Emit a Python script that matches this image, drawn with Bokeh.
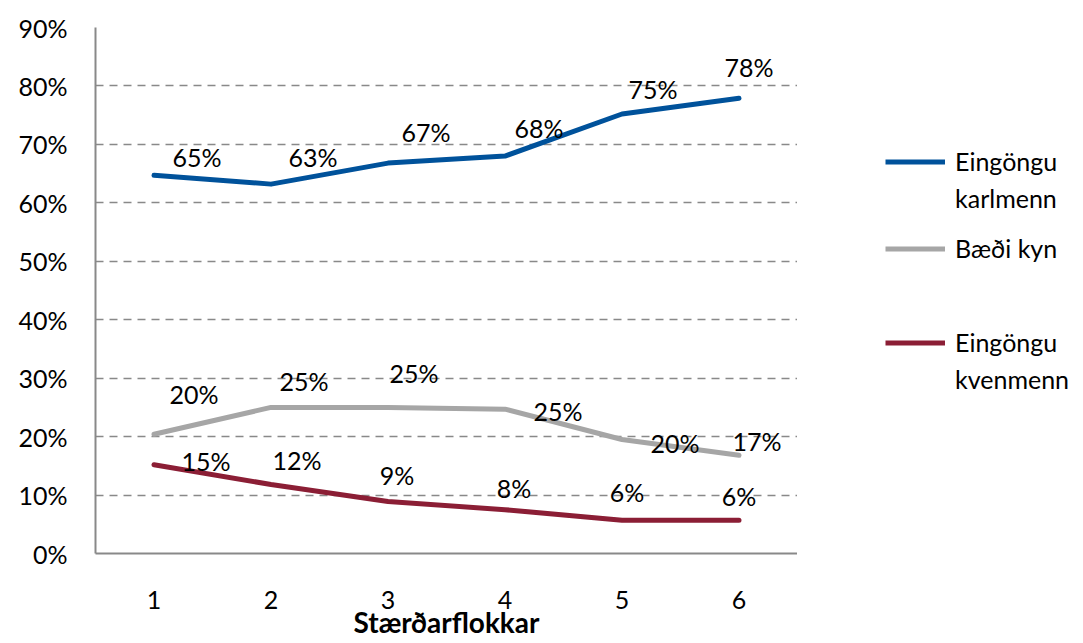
from bokeh.plotting import figure
from bokeh.layouts import row
from bokeh.models import (ColumnDataSource, Range1d, FixedTicker, NumeralTickFormatter,
                          Legend, LegendItem)
from bokeh.core.properties import value
from bokeh.embed import file_html
from bokeh.resources import INLINE

categories = [1, 2, 3, 4, 5, 6]
karlmenn = [0.647, 0.632, 0.668, 0.680, 0.752, 0.779]
baedi = [0.204, 0.250, 0.250, 0.247, 0.195, 0.168]
kvenmenn = [0.152, 0.118, 0.089, 0.075, 0.057, 0.057]
karl_labels = ["65%", "63%", "67%", "68%", "75%", "78%"]
baedi_labels = ["20%", "25%", "25%", "25%", "20%", "17%"]
kven_labels = ["15%", "12%", "9%", "8%", "6%", "6%"]
y_ticks = [0, 0.1, 0.2, 0.3, 0.4, 0.5, 0.6, 0.7, 0.8, 0.9]
series_names = [["Eingöngu", "karlmenn"], ["Bæði kyn"], ["Eingöngu", "kvenmenn"]]
x_title = "Stærðarflokkar"

FONT = "Lato"
colors = ["#00529B", "#A6A6A6", "#8B1E35"]
series = [karlmenn, baedi, kvenmenn]

# label offsets in pixels (placement only)
karl_dx = [43, 42, 38, 34, 31, 10]
karl_dy = [-18, -27, -31, -28, -25, -31]
baedi_dx = [40, 33, 26, 53, 53, 18]
baedi_dy = [-40, -26, -34, 2, 3, -14]
kven_dx = [52, 26, 9, 9, 5, 0]
kven_dy = [-4, -25, -26, -22, -28, -24]

H = 643
TOP, BOTTOM = 27, 90
MAIN_W = 797
LEG_W = 278
p = figure(width=MAIN_W, height=H, output_backend="svg", toolbar_location=None,
           x_range=Range1d(0.5, 6.5), y_range=Range1d(0, 0.9),
           min_border_left=95, min_border_right=0, min_border_top=TOP,
           min_border_bottom=BOTTOM)
p.outline_line_color = None
p.background_fill_color = "white"
p.border_fill_color = "white"

for ys, c in zip(series, colors):
    p.line(categories, ys, line_color=c, line_width=5, line_cap="round", line_join="round")

for ys, labs, dx, dy in [(karlmenn, karl_labels, karl_dx, karl_dy),
                         (baedi, baedi_labels, baedi_dx, baedi_dy),
                         (kvenmenn, kven_labels, kven_dx, kven_dy)]:
    src = ColumnDataSource(dict(x=categories, y=ys, t=labs, dx=dx, dy=dy))
    p.text(x="x", y="y", text="t", x_offset="dx", y_offset="dy", source=src,
           text_font=value(FONT), text_font_size="25px", text_color="black",
           text_align="center", text_baseline="middle")

p.yaxis.ticker = FixedTicker(ticks=y_ticks)
p.yaxis.formatter = NumeralTickFormatter(format="0%")
p.xaxis.ticker = FixedTicker(ticks=categories)
for ax in [p.xaxis[0], p.yaxis[0]]:
    ax.axis_line_color = "#898989"
    ax.axis_line_width = 2
    ax.major_tick_line_color = None
    ax.minor_tick_line_color = None
    ax.major_label_text_font = FONT
    ax.major_label_text_font_size = "25px"
    ax.major_label_text_color = "black"
p.yaxis.major_label_standoff = 22
p.xaxis.major_label_standoff = 31
p.xaxis.axis_label = x_title
p.xaxis.axis_label_text_font = FONT
p.xaxis.axis_label_text_font_size = "28px"
p.xaxis.axis_label_text_font_style = "bold"
p.xaxis.axis_label_text_color = "black"
p.xaxis.axis_label_standoff = -7

p.xgrid.grid_line_color = None
p.ygrid.grid_line_color = "#898989"
p.ygrid.grid_line_width = 1.5
p.ygrid.grid_line_dash = "8 6"

# legend panel (its key renderers sit outside its visible ranges)
q = figure(width=LEG_W, height=H, output_backend="svg", toolbar_location=None,
           x_range=Range1d(-3, -2), y_range=Range1d(-3, -2),
           min_border_left=0, min_border_right=0, min_border_top=TOP,
           min_border_bottom=BOTTOM)
q.axis.visible = False
q.grid.visible = False
q.outline_line_color = None
q.border_fill_color = "white"
key_lines = [q.line(categories, ys, line_color=c, line_width=5) for ys, c in zip(series, colors)]
ghost = q.line(categories, karlmenn, line_alpha=0)

frame_bottom = H - BOTTOM
row_h = 37
legend_centres = [161, 248, 342]  # page y of each key line
for names, r, yc in zip(series_names, key_lines, legend_centres):
    items = [LegendItem(label=names[0], renderers=[r])]
    for extra in names[1:]:
        items.append(LegendItem(label=extra, renderers=[ghost]))
    box_bottom = yc - row_h / 2 + row_h * len(items)
    leg = Legend(items=items, location=(88, frame_bottom - box_bottom))
    leg.label_text_font = FONT
    leg.label_text_font_size = "25px"
    leg.label_text_color = "black"
    leg.glyph_width = 60
    leg.glyph_height = row_h
    leg.label_height = row_h
    leg.label_standoff = 10
    leg.spacing = 0
    leg.border_line_color = None
    leg.background_fill_alpha = 0
    leg.margin = 0
    leg.padding = 0
    q.add_layout(leg)

layout = row(p, q, spacing=0)
open("out.html", "w").write(file_html(layout, INLINE))
